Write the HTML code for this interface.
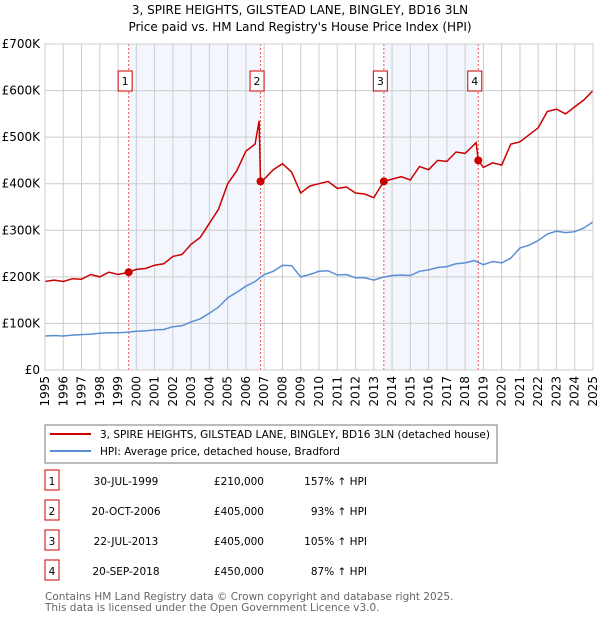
<!DOCTYPE html>
<html><head><meta charset="utf-8"><style>
body{margin:0;background:#fff;font-family:"DejaVu Sans","Liberation Sans",sans-serif;}
svg text{font-family:"DejaVu Sans","Liberation Sans",sans-serif;}
</style></head><body>
<svg id="c" width="600" height="620" xmlns="http://www.w3.org/2000/svg">
<text x="300" y="14" text-anchor="middle" font-size="12">3, SPIRE HEIGHTS, GILSTEAD LANE, BINGLEY, BD16 3LN</text>
<text x="300" y="31" text-anchor="middle" font-size="12">Price paid vs. HM Land Registry's House Price Index (HPI)</text>
<g id="plot"></g>
<rect x="45" y="425" width="452" height="38" fill="#fff" stroke="#777"/>
<line x1="50" y1="434" x2="91" y2="434" stroke="#cc0000" stroke-width="2"/>
<text x="100" y="438" font-size="10.5">3, SPIRE HEIGHTS, GILSTEAD LANE, BINGLEY, BD16 3LN (detached house)</text>
<line x1="50" y1="451" x2="91" y2="451" stroke="#5b8fd4" stroke-width="2"/>
<text x="100" y="455" font-size="10.5">HPI: Average price, detached house, Bradford</text>
<g id="table" font-size="10.5"></g>
<text x="45" y="600" font-size="10.5" fill="#666">Contains HM Land Registry data © Crown copyright and database right 2025.</text>
<text x="45" y="611" font-size="10.5" fill="#666">This data is licensed under the Open Government Licence v3.0.</text>
</svg>
<script>
const hpiYears=[1995,1995.5,1996,1996.5,1997,1997.5,1998,1998.5,1999,1999.5,2000,2000.5,2001,2001.5,2002,2002.5,2003,2003.5,2004,2004.5,2005,2005.5,2006,2006.5,2007,2007.5,2008,2008.5,2009,2009.5,2010,2010.5,2011,2011.5,2012,2012.5,2013,2013.5,2014,2014.5,2015,2015.5,2016,2016.5,2017,2017.5,2018,2018.5,2019,2019.5,2020,2020.5,2021,2021.5,2022,2022.5,2023,2023.5,2024,2024.5,2025];
const hpiValues=[73,74,73,75,76,77,79,80,80,81,83,84,86,87,93,95,103,110,122,135,155,167,180,190,205,212,225,224,200,205,212,213,204,205,198,198,193,199,203,204,203,212,215,220,222,228,230,235,226,233,230,240,262,268,278,292,298,295,297,305,318];
const propYears=[1995,1995.5,1996,1996.5,1997,1997.5,1998,1998.5,1999,1999.58,2000,2000.5,2001,2001.5,2002,2002.5,2003,2003.5,2004,2004.5,2005,2005.5,2006,2006.5,2006.72,2006.8,2007,2007.5,2008,2008.5,2009,2009.5,2010,2010.5,2011,2011.5,2012,2012.5,2013,2013.55,2014,2014.5,2015,2015.5,2016,2016.5,2017,2017.5,2018,2018.6,2018.72,2019,2019.5,2020,2020.5,2021,2021.5,2022,2022.5,2023,2023.5,2024,2024.5,2025];
const propValues=[190,193,190,196,195,205,200,210,205,210,216,218,225,228,244,248,270,285,315,345,400,428,470,485,535,405,410,430,443,425,380,395,400,405,390,393,380,378,370,405,410,415,408,437,430,450,448,468,465,488,450,435,445,440,485,490,505,520,555,560,550,565,580,600];
const saleYears=[1999.58,2006.8,2013.55,2018.72];
const saleValues=[210,405,405,450];
const saleLabels=["1","2","3","4"];
const saleDates=["30-JUL-1999","20-OCT-2006","22-JUL-2013","20-SEP-2018"];
const salePrices=["£210,000","£405,000","£405,000","£450,000"];
const saleHpi=["157% ↑ HPI","93% ↑ HPI","105% ↑ HPI","87% ↑ HPI"];
const yTicks=[0,100,200,300,400,500,600,700];
const yTickLabels=["£0","£100K","£200K","£300K","£400K","£500K","£600K","£700K"];
const xTicks=[1995,1996,1997,1998,1999,2000,2001,2002,2003,2004,2005,2006,2007,2008,2009,2010,2011,2012,2013,2014,2015,2016,2017,2018,2019,2020,2021,2022,2023,2024,2025];

const NS="http://www.w3.org/2000/svg";
const X0=45,X1=593,Y0=370,Y1=44;
const xs=y=>X0+(y-1995)/30*(X1-X0);
const ys=v=>Y0-v/700*(Y0-Y1);
const plot=document.getElementById('plot');
function mk(tag,attrs,parent){const e=document.createElementNS(NS,tag);for(const k in attrs)e.setAttribute(k,attrs[k]);(parent||plot).appendChild(e);return e;}
let r;
r=mk('rect',{x:X0,y:Y1,width:X1-X0,height:Y0-Y1,fill:'#fff'});


for(let i=0;i<2;i++){
 r=mk('rect',{x:xs(saleYears[i*2]),y:Y1,width:xs(saleYears[i*2+1])-xs(saleYears[i*2]),height:Y0-Y1,fill:'#eef2fc',opacity:0.7});
 
 
}
xTicks.forEach(t=>{
 const l=mk('line',{x1:xs(t),x2:xs(t),y1:Y1,y2:Y0,stroke:'#ccc','stroke-width':1});
 
 
 const tx=mk('text',{x:0,y:0,'font-size':12,'text-anchor':'end',transform:`translate(${xs(t)+4},${Y0+6}) rotate(-90)`});
 tx.textContent=t;
 
 
});
yTicks.forEach((t,i)=>{
 const l=mk('line',{x1:X0,x2:X1,y1:ys(t),y2:ys(t),stroke:'#ccc','stroke-width':1});
 
 
 const tx=mk('text',{x:X0-5,y:ys(t)+4,'font-size':12,'text-anchor':'end'});
 tx.textContent=yTickLabels[i];
 
 
});
saleYears.forEach(s=>{
 const l=mk('line',{x1:xs(s),x2:xs(s),y1:Y1,y2:Y0,stroke:'#e55','stroke-width':1,'stroke-dasharray':'2,2'});
 
 
});
const pts=(xa,va)=>xa.map((x,i)=>xs(x).toFixed(1)+','+ys(va[i]).toFixed(1)).join(' ');
let p=mk('polyline',{points:pts(hpiYears,hpiValues),fill:'none',stroke:'#5b8fd4','stroke-width':1.5});


p=mk('polyline',{points:pts(propYears,propValues),fill:'none',stroke:'#cc0000','stroke-width':1.5});


saleYears.forEach((s,i)=>{
 const c=mk('circle',{cx:xs(s),cy:ys(saleValues[i]),r:4,fill:'#cc0000'});
 
 
 const b=mk('rect',{x:xs(s)-10.5,y:71,width:14,height:20,fill:'#fff',stroke:'#cc0000'});
 
 
 const t=mk('text',{x:xs(s)-3.5,y:85,'font-size':11,'text-anchor':'middle'});
 t.textContent=saleLabels[i];
 
 
});
mk('rect',{x:X0,y:Y1,width:X1-X0,height:Y0-Y1,fill:'none',stroke:'#ccc'});
const tb=document.getElementById('table');
saleLabels.forEach((lab,i)=>{
 const y=482+i*30;
 let e=mk('rect',{x:45,y:y-12,width:14,height:20,fill:'#fff',stroke:'#cc0000'},tb);
 
 
 e=mk('text',{x:52,y:y+3,'text-anchor':'middle'},tb);e.textContent=lab;
 
 
 e=mk('text',{x:126,y:y+3,'text-anchor':'middle'},tb);e.textContent=saleDates[i];
 
 
 e=mk('text',{x:264,y:y+3,'text-anchor':'end'},tb);e.textContent=salePrices[i];
 
 
 e=mk('text',{x:367,y:y+3,'text-anchor':'end'},tb);e.textContent=saleHpi[i];
 
 
});
</script>
</body></html>
